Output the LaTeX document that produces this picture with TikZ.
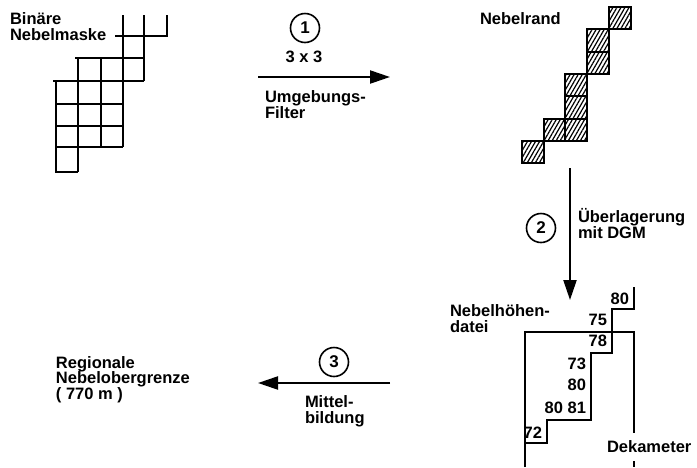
\documentclass[tikz,border=0pt]{standalone}
\usepackage{fontspec}
\setmainfont{Liberation Sans}
\usetikzlibrary{arrows.meta,patterns.meta,positioning}

\begin{document}
\begin{tikzpicture}[x=1pt,y=-1pt,line width=2pt,
    lbl/.style={font=\bfseries\fontsize{16.5}{15.5}\selectfont, align=left, inner sep=0pt, anchor=base west},
    num/.style={font=\bfseries\fontsize{16.5}{15.5}\selectfont, inner sep=0pt, anchor=base east},
    nr/.style={circle, draw, line width=1.6pt, minimum size=29pt, inner sep=0pt, font=\bfseries\fontsize{17}{17}\selectfont},
    pfeil/.style={line width=2.2pt, -{Triangle[length=20pt,width=13pt]}},
    zelle/.style={draw, line width=2pt, pattern={Lines[angle=60,distance=3.5pt,line width=1.2pt]}}]
    \useasboundingbox (0,0) rectangle (697,467);

    % binaere Nebelmaske
    \draw (167,15) -- (167,36) -- (115,36);
    \draw (144,15) -- (144,81);
    \draw (123,15) -- (123,147);
    \draw (101,58) -- (101,147);
    \draw (78,58) -- (78,172);
    \draw (56,81) -- (56,172) -- (78,172);
    \draw (75,58) -- (144,58);
    \draw (53,81) -- (144,81);
    \foreach \y in {104,126,147}
        \draw (56,\y) -- (123,\y);

    % Nebelrand
    \foreach \c/\r in {4/0,3/1,3/2,2/3,2/4,1/5,2/5,0/6}
        \draw[zelle] ({522+21.7*\c},{7+22.3*\r}) rectangle +(21.7,22.3);

    % Nebelhoehendatei
    \draw (634,287) -- (634,309) -- (612,309) -- (612,353) -- (591,353)
        -- (591,420) -- (547,420) -- (547,443) -- (525,443);
    \draw (525,467) -- (525,332) -- (634,332) -- (634,433);
    \draw (634,461) -- (634,467);
    \node[num] (h1) at (630,304) {80};
    \node[num] (h2) at (608,325) {75};
    \node[num] (h3) at (608,346) {78};
    \node[num] (h4) at (587,369) {73};
    \node[num] (h5) at (587,390) {80};
    \node[num] (h6) at (587,413) {80 81};
    \node[num] (h7) at (543,438) {72};

    % Texte (Anker auf der letzten Zeile)
    \node[lbl] (maske) at (9,40) {Binäre\\Nebelmaske};
    \node[lbl] (rand) at (479,24) {Nebelrand};
    \node[lbl] (datei) at (449,332) {Nebelhöhen-\\datei};
    \node[lbl] (grenze) at (55,399) {Regionale\\Nebelobergrenze\\( 770 m )};
    \node[lbl] (filter) at (264,118) {Umgebungs-\\Filter};
    \node[lbl] (dgm) at (577,238) {Überlagerung\\mit DGM};
    \node[lbl] (mittel) at (304,423) {Mittel-\\bildung};
    \node[lbl, anchor=base] (dreimal) at (304,62) {3 x 3};
    \node[lbl] (deka) at (606,452) {Dekameter};

    % Schritte
    \node[nr] (n1) at (305,28) {1};
    \node[nr] (n2) at (541,228) {2};
    \node[nr] (n3) at (334,362) {3};

    \coordinate (p1a) at (258,77);
    \coordinate (p1b) at (390,77);
    \coordinate (p2a) at (570,168);
    \coordinate (p2b) at (570,300);
    \coordinate (p3a) at (390,383);
    \coordinate (p3b) at (258,383);
    \draw[pfeil] (p1a) -- (p1b);
    \draw[pfeil] (p2a) -- (p2b);
    \draw[pfeil] (p3a) -- (p3b);
\end{tikzpicture}
\end{document}
